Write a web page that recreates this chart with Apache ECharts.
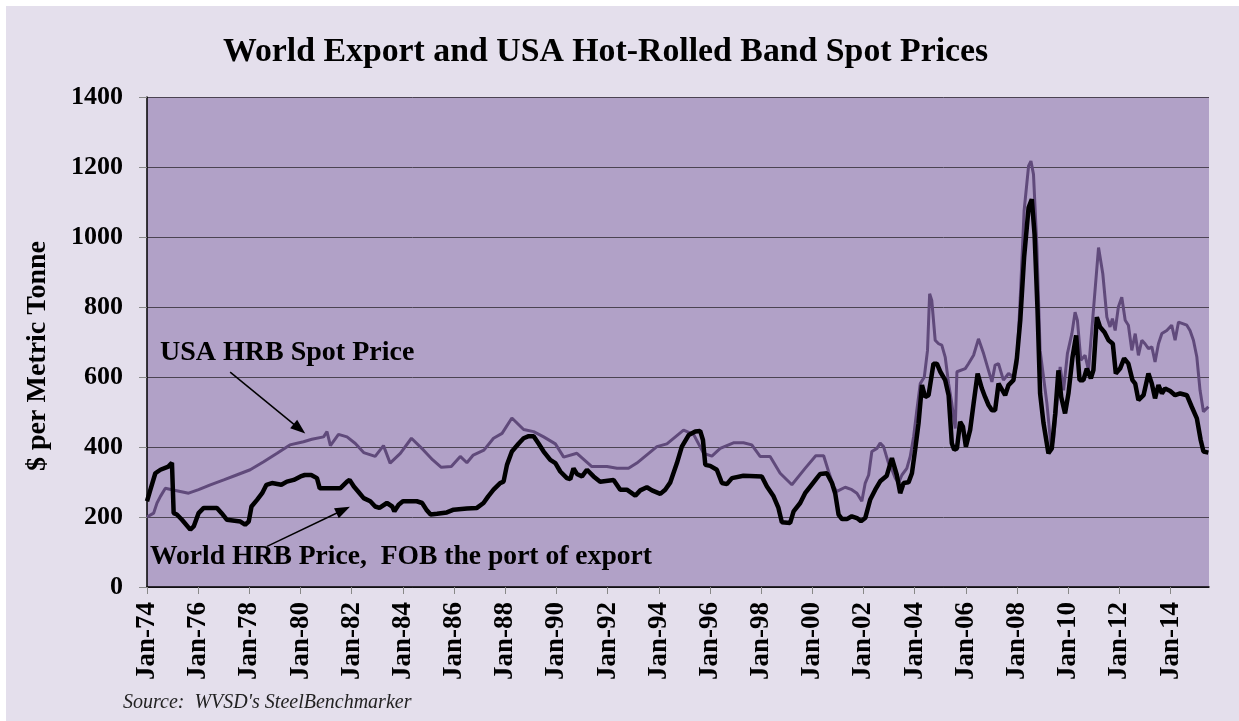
<!DOCTYPE html>
<html>
<head>
<meta charset="utf-8">
<title>World Export and USA Hot-Rolled Band Spot Prices</title>
<script src="https://cdn.jsdelivr.net/npm/echarts@6/dist/echarts.min.js"></script>
<style>
html,body{margin:0;padding:0;background:#fff;}
#chart{position:absolute;left:6px;top:6px;width:1233px;height:715px;}
</style>
</head>
<body>
<div id="chart"></div>
<script>
// x values are months counted from Jan-74
var tickMonths = [0,24,48,72,96,120,144,168,192,216,240,264,288,312,336,360,384,408,432,456,480];
var tickLabels = ['Jan-74','Jan-76','Jan-78','Jan-80','Jan-82','Jan-84','Jan-86','Jan-88','Jan-90','Jan-92','Jan-94',
	'Jan-96','Jan-98','Jan-00','Jan-02','Jan-04','Jan-06','Jan-08','Jan-10','Jan-12','Jan-14'];
var yTicks = [0,200,400,600,800,1000,1200,1400];

var worldPrice = [[0,245],[1.6,278],[3.9,325],[6.3,335],[10,344],[11.7,355],[12.5,211],[14,207],[16.4,192],[20.3,164],
	[21.9,173],[24.2,211],[26.6,226],[32.8,226],[35,211],[37.5,192],[43.8,187],[46,178],[47.7,187],[49,230],
	[51.6,249],[54,268],[56,292],[58.6,297],[63,292],[65.6,301],[68.8,306],[72,316],[74,320],[77,320],
	[79.7,311],[81,282],[90.6,282],[93.8,301],[95,306],[97,287],[99,273],[101.6,254],[104.7,245],[107,230],
	[109,226],[112.5,240],[115,230],[116,216],[118,235],[120,245],[126.5,245],[129,240],[131,221],[133,207],
	[136,209],[140.6,213],[143.8,221],[150,224],[154.7,226],[157.8,240],[160,259],[162.5,278],[165.6,297],[167.2,301],
	[168.8,349],[171.1,387],[174.3,410],[176.6,425],[179,431],[181.3,431],[183.6,410],[186,387],[189.1,363],[191.5,354],
	[193.8,330],[196.9,311],[198.5,308],[200,339],[201.6,323],[204,316],[206.3,335],[209.4,316],[212.5,301],[218.8,306],
	[221.9,278],[225,278],[229,261],[231.3,276],[234.4,285],[236.8,276],[240.7,266],[243,278],[245.4,299],[248.5,354],
	[250.8,401],[254,434],[257.1,444],[259.4,446],[260.7,420],[261.8,349],[264.1,346],[267.2,335],[269.6,297],[271.9,294],
	[274.3,311],[279.7,318],[288.3,316],[290.7,287],[293.8,259],[296.1,226],[297.7,185],[301.6,183],[303.2,216],[306.3,240],
	[308.6,268],[311,287],[314.1,311],[315.7,323],[318.8,325],[321.2,297],[322.7,268],[324.3,207],[325.9,194],[328.2,194],
	[330.5,202],[332.9,197],[334.8,188],[336.8,197],[339.1,249],[341.5,278],[343.8,302],[346.9,318],[349.3,368],[351.6,320],
	[353.2,268],[354.8,297],[357.1,299],[358.7,325],[360.2,392],[361.8,468],[363.4,577],[364.9,543],[366.5,548],[368.8,638],
	[370.4,638],[372,615],[374.3,591],[375.9,548],[377.4,411],[378.5,392],[379.8,396],[381.3,472],[382.6,458],[384,401],
	[386,449],[387.6,524],[389.5,610],[391.5,567],[393,543],[394.6,520],[396.2,505],[397.7,505],[399.3,581],[402.4,548],
	[404,577],[406.3,591],[407.9,653],[409.5,762],[411.3,942],[413.4,1084],[414.9,1108],[416.2,1008],[417.6,790],[418.8,553],
	[420.4,468],[422.7,382],[424.3,396],[425.9,496],[427.4,619],[428.7,543],[430.5,496],[432.1,553],[434,657],[435.7,719],
	[437.3,591],[439.1,591],[440.7,624],[442.6,596],[443.8,620],[445.4,771],[446.9,743],[449,728],[450.9,705],[452.9,695],
	[454.3,610],[456.3,624],[458.2,653],[460.2,638],[462.1,591],[463.4,581],[464.9,534],[467.3,548],[469.6,610],[471.2,581],
	[472.7,539],[474.3,577],[475.9,553],[477.4,567],[479.8,560],[482.1,548],[484.5,553],[487.6,548],[489.9,515],[492.3,482],
	[494.1,420],[495.4,387],[497.7,384]];

var usaPrice = [[0,200],[3.1,211],[4.7,240],[6.3,259],[8.6,282],[11.7,278],[15.6,273],[19.5,268],[24.2,278],[29.7,292],
	[36,306],[42,320],[48.4,335],[54.7,358],[61,382],[67,406],[73.4,415],[77.3,422],[82.8,429],[84.4,444],
	[86,404],[89.8,436],[93.8,429],[97.7,410],[101.6,384],[107,373],[110.9,404],[114,354],[118.8,382],[124,425],
	[129.7,391],[134,363],[138,342],[142.7,344],[146.9,373],[150,355],[153,377],[158,391],[162.5,425],[166.5,439],
	[171.1,483],[176.6,450],[181.3,444],[186,429],[191.5,409],[195.4,371],[201.6,382],[208.6,344],[215.7,344],[220.4,339],
	[225.8,339],[229.7,354],[239.1,401],[243.8,409],[251.6,448],[256.3,436],[261,382],[264.9,374],[268.8,396],[275,412],
	[279.7,412],[283.6,406],[287.5,373],[292.2,373],[296.9,325],[302.4,292],[308.6,339],[313.6,375],[317.3,375],[319.6,330],
	[322,287],[323.5,273],[327.4,285],[330.5,278],[332.9,268],[335.2,245],[336.8,297],[338.4,320],[339.9,387],[342.3,396],
	[343.8,411],[345.4,401],[347.7,354],[349.3,335],[350.9,311],[352.4,297],[354,320],[356.3,339],[357.9,373],[359.5,430],
	[361,505],[362.6,581],[364.5,600],[366,676],[367,838],[368,819],[369.6,705],[371.2,695],[372.7,691],[374.3,657],
	[375.9,581],[377.4,524],[379,453],[379.8,615],[383.7,624],[385.2,638],[387.6,662],[389.9,709],[392.3,667],[394.6,619],
	[396.2,586],[397.7,634],[399.3,638],[401.6,591],[404,610],[406.3,600],[407.9,634],[409.5,828],[411.3,1075],[413.4,1203],
	[414.5,1217],[415.7,1179],[417.3,971],[418.8,676],[420.4,600],[422,524],[424,396],[425.1,420],[427,543],[428.2,629],
	[429.8,562],[431.6,667],[433.7,724],[435.2,785],[436.3,762],[437.9,648],[439.9,662],[441.5,619],[446.2,970],[448.2,895],
	[450.1,771],[451.6,743],[452.7,767],[454,733],[455.5,800],[457.1,828],[458.7,762],[460.2,748],[461.8,676],[463.4,724],
	[464.9,662],[466.5,705],[468,695],[469.6,681],[471.2,686],[472.7,643],[474.3,695],[475.9,724],[478.2,733],[480.5,748],
	[482.1,705],[483.7,757],[486,752],[487.6,748],[489.1,733],[490.7,705],[492.3,657],[493.8,562],[495.4,501],[497.7,515]];

var serif = '"Liberation Serif", "DejaVu Serif", serif';

function monthLabel(v){
	var i = tickMonths.indexOf(v);
	return i >= 0 ? tickLabels[i] : '';
}

var myChart = echarts.init(document.getElementById('chart'));
var option = {
	backgroundColor: '#E4DFEC',
	animation: false,
	grid: {
		left: 141, top: 91, right: 30, bottom: 134,
		show: true, backgroundColor: '#B1A1C7', borderWidth: 0
	},
	xAxis: {
		type: 'value', min: 0, max: 498, interval: 24,
		axisLine: {lineStyle: {color: '#000', width: 1.5}},
		axisTick: {show: true, length: 7, lineStyle: {color: '#888'}, customValues: tickMonths},
		axisLabel: {
			rotate: 90, margin: 15, customValues: tickMonths,
			fontFamily: serif, fontWeight: 'bold', fontSize: 27, color: '#000',
			formatter: monthLabel
		},
		splitLine: {show: false}
	},
	yAxis: {
		type: 'value', min: 0, max: 1400, interval: 200,
		axisLine: {show: true, lineStyle: {color: '#000', width: 1.5}},
		axisTick: {show: true, length: 8, lineStyle: {color: '#888'}},
		axisLabel: {margin: 24, fontFamily: serif, fontWeight: 'bold', fontSize: 26, color: '#000',
			formatter: function(v){ return String(v); }},
		splitLine: {lineStyle: {color: '#4b4352', width: 1}}
	},
	graphic: [
		{type: 'text', left: 217, top: 29, style: {text: 'World Export and USA Hot-Rolled Band Spot Prices',
			font: 'bold 33.8px ' + serif, fill: '#000'}},
		{type: 'text', x: 32, y: 350, rotation: Math.PI / 2, style: {text: '$ per Metric Tonne',
			font: 'bold 28px ' + serif, fill: '#000', align: 'center', verticalAlign: 'middle'}},
		{type: 'text', left: 154, top: 333, style: {text: 'USA HRB Spot Price', font: 'bold 28px ' + serif, fill: '#000'}},
		{type: 'text', left: 144, top: 537, style: {text: 'World HRB Price,  FOB the port of export',
			font: 'bold 27.6px ' + serif, fill: '#000'}},
		{type: 'text', left: 117, top: 687, style: {text: "Source:  WVSD's SteelBenchmarker",
			font: 'italic 20px ' + serif, fill: '#222'}}
	],
	series: [
		{
			name: 'USA HRB Spot Price', type: 'line', data: usaPrice,
			showSymbol: false, lineStyle: {color: '#604A7B', width: 3}, z: 2,
			markLine: {
				silent: true, symbol: ['none', 'triangle'], symbolSize: [11, 15],
				label: {show: false},
				lineStyle: {color: '#000', width: 1.5, type: 'solid'},
				data: [
					[{coord: [39, 614]}, {coord: [71.5, 452]}],
					[{coord: [56.3, 116]}, {coord: [92, 220]}]
				]
			}
		},
		{
			name: 'World HRB Price', type: 'line', data: worldPrice,
			showSymbol: false, lineStyle: {color: '#000', width: 4.5}, z: 3
		}
	]
};
myChart.setOption(option);
</script>
</body>
</html>
